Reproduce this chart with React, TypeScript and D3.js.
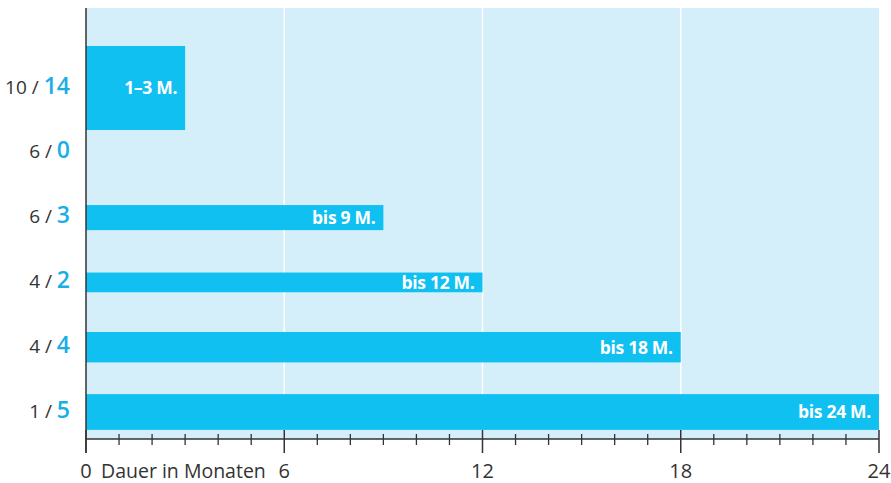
import { useRef, useEffect } from "react";
import * as d3 from "d3";

// rows, top to bottom
const totals = [10, 6, 6, 4, 4, 1];
const counts = [14, 0, 3, 2, 4, 5];
const durations = [3, 0, 9, 12, 18, 24];
const barLabels = ["1–3 M.", "", "bis 9 M.", "bis 12 M.", "bis 18 M.", "bis 24 M."];
const majorTicks = [0, 6, 12, 18, 24];
const axisTitle = "Dauer in Monaten";

const W = 891;
const H = 483;

export default function App() {
  const svgRef = useRef<SVGSVGElement>(null);

  useEffect(() => {
    if (!svgRef.current) return;
    const svg = d3.select(svgRef.current);
    svg.selectAll("*").remove();

    const font = "'Open Sans', 'DejaVu Sans', sans-serif";
    const left = 86, right = 879, top = 8, axisY = 439;

    const x = d3.scaleLinear().domain([0, 24]).range([left, right]);
    const y = d3.scalePoint<number>().domain(d3.range(totals.length)).range([88, 412]);
    const thick = d3.scaleLinear().domain([0, 14]).range([9, 84]);

    // background panel
    svg.append("rect")
      .attr("x", left).attr("y", top)
      .attr("width", right - left).attr("height", axisY - top)
      .attr("fill", "#d4eefa");

    // white gridlines
    svg.selectAll("line.grid")
      .data(majorTicks.filter((t) => t > 0 && t < 24))
      .join("line")
      .attr("class", "grid")
      .attr("x1", (d) => x(d)).attr("x2", (d) => x(d))
      .attr("y1", top).attr("y2", axisY)
      .attr("stroke", "#fff").attr("stroke-width", 1.5);

    const rows = d3.range(totals.length);

    // bars
    svg.selectAll("rect.bar")
      .data(rows.filter((i) => counts[i] > 0))
      .join("rect")
      .attr("class", "bar")
      .attr("x", x(0))
      .attr("y", (i) => y(i)! - thick(counts[i]) / 2)
      .attr("width", (i) => x(durations[i]) - x(0))
      .attr("height", (i) => thick(counts[i]))
      .attr("fill", "#10c0f1");

    svg.selectAll("text.barlabel")
      .data(rows.filter((i) => counts[i] > 0))
      .join("text")
      .attr("class", "barlabel")
      .attr("x", (i) => x(durations[i]) - 8)
      .attr("y", (i) => y(i)!)
      .attr("dy", "0.36em")
      .attr("text-anchor", "end")
      .attr("fill", "#fff")
      .attr("font-family", font)
      .attr("font-weight", 700)
      .attr("font-size", 17.5)
      .attr("letter-spacing", -0.3)
      .text((i) => barLabels[i]);

    // row labels "total / count"
    const lab = svg.selectAll("text.rowlabel")
      .data(rows)
      .join("text")
      .attr("class", "rowlabel")
      .attr("x", 70)
      .attr("y", (i) => y(i)!)
      .attr("dy", "0.35em")
      .attr("text-anchor", "end")
      .attr("font-family", font);
    lab.append("tspan")
      .attr("fill", "#333")
      .attr("font-size", 19)
      .text((i) => `${totals[i]} / `);
    lab.append("tspan")
      .attr("fill", "#1aaee6")
      .attr("font-size", 23)
      .attr("font-weight", 600)
      .text((i) => `${counts[i]}`);

    // axes lines
    svg.append("line")
      .attr("x1", left).attr("x2", left)
      .attr("y1", top).attr("y2", 453)
      .attr("stroke", "#333").attr("stroke-width", 1.5);
    svg.append("line")
      .attr("x1", left).attr("x2", right)
      .attr("y1", axisY).attr("y2", axisY)
      .attr("stroke", "#333").attr("stroke-width", 1.5);

    // minor ticks every month
    svg.selectAll("line.minor")
      .data(x.ticks(24).filter((t) => t % 6 !== 0))
      .join("line")
      .attr("class", "minor")
      .attr("x1", (d) => x(d)).attr("x2", (d) => x(d))
      .attr("y1", axisY - 5).attr("y2", axisY + 6)
      .attr("stroke", "#333").attr("stroke-width", 1.3);

    svg.selectAll("line.major")
      .data(majorTicks)
      .join("line")
      .attr("class", "major")
      .attr("x1", (d) => x(d)).attr("x2", (d) => x(d))
      .attr("y1", axisY - 9).attr("y2", axisY + 14)
      .attr("stroke", "#333").attr("stroke-width", 1.5);

    svg.selectAll("text.tick")
      .data(majorTicks)
      .join("text")
      .attr("class", "tick")
      .attr("x", (d) => x(d))
      .attr("y", 478)
      .attr("text-anchor", "middle")
      .attr("fill", "#333")
      .attr("font-family", font)
      .attr("font-size", 20)
      .text((d) => `${d}`);

    svg.append("text")
      .attr("x", x(0) + 15)
      .attr("y", 478)
      .attr("fill", "#333")
      .attr("font-family", font)
      .attr("font-size", 19.5)
      .text(axisTitle);
  }, []);

  return (
    <svg
      ref={svgRef}
      width={W}
      height={H}
      style={{ position: "absolute", left: 0, top: 0, background: "#fff" }}
    />
  );
}
